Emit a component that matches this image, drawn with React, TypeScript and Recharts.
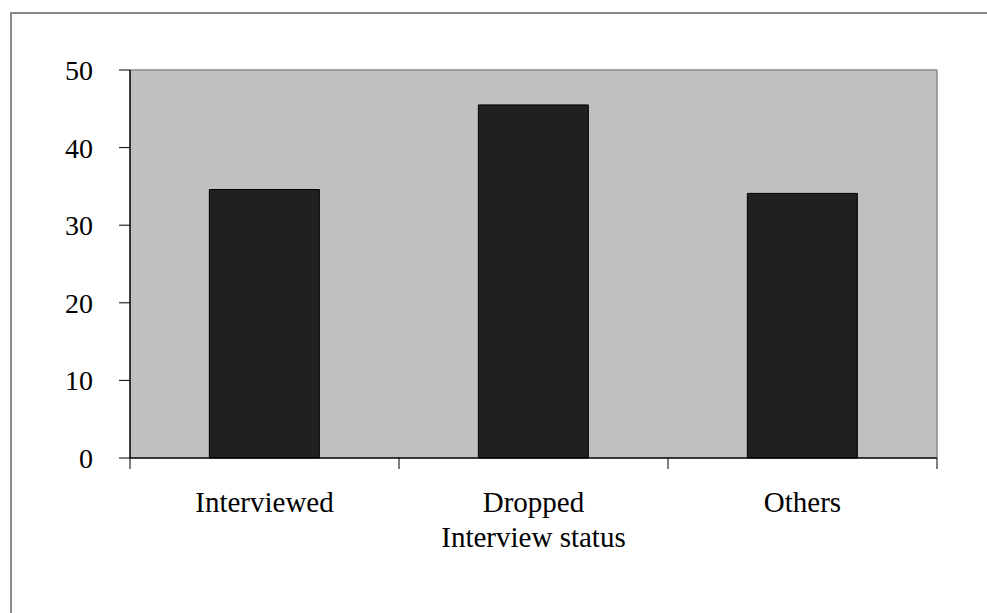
import { BarChart, Bar, XAxis, YAxis, CartesianGrid } from "recharts";

const categories = ["Interviewed", "Dropped", "Others"];
const values = [34.6, 45.5, 34.1];
const yTicks = [0, 10, 20, 30, 40, 50];

const data = categories.map((name, i) => ({ name, value: values[i] }));

const font = "'Liberation Serif', 'Times New Roman', serif";

// category label plus tick marks at the band edges
function CategoryTick(props: any) {
  const { x, y, payload, width, visibleTicksCount, index } = props;
  const half = width / visibleTicksCount / 2;
  return (
    <g>
      <line x1={x - half} x2={x - half} y1={y} y2={y + 11} stroke="#000" />
      {index === visibleTicksCount - 1 && (
        <line x1={x + half} x2={x + half} y1={y} y2={y + 11} stroke="#000" />
      )}
      <text x={x} y={y + 54} textAnchor="middle" fontSize={29} fill="#000" fontFamily={font}>
        {payload.value}
      </text>
    </g>
  );
}

export default function App() {
  return (
    <div style={{ position: "fixed", left: 0, top: 0, width: 987, height: 613, background: "#fff", overflow: "hidden" }}>
      <div
        style={{
          position: "absolute",
          left: 10,
          top: 12,
          width: 1000,
          height: 700,
          borderLeft: "2px solid #8a8a8a",
          borderTop: "2px solid #8a8a8a",
        }}
      />
      <div style={{ position: "absolute", left: 0, top: 0 }}>
        <BarChart
          width={987}
          height={613}
          data={data}
          margin={{ top: 70, right: 50, left: 0, bottom: 55 }}
          barCategoryGap="29.5%"
        >
          <CartesianGrid
            fill="#c0c0c0"
            stroke="#8a8a8a"
            strokeWidth={1.5}
            horizontalCoordinatesGenerator={({ offset }: any) => [offset.top]}
            verticalCoordinatesGenerator={({ offset }: any) => [offset.left + offset.width]}
          />
          <XAxis
            dataKey="name"
            height={100}
            tickLine={false}
            tickSize={0}
            tickMargin={0}
            interval={0}
            axisLine={{ stroke: "#000", strokeWidth: 1.5 }}
            tick={<CategoryTick />}
            label={{
              value: "Interview status",
              position: "insideTop",
              offset: 68,
              fontSize: 29,
              fill: "#000",
              fontFamily: font,
            }}
          />
          <YAxis
            domain={[0, 50]}
            ticks={yTicks}
            width={130}
            tickSize={11}
            tickMargin={26}
            interval={0}
            axisLine={{ stroke: "#000", strokeWidth: 1.5 }}
            tickLine={{ stroke: "#000" }}
            tick={{ fontSize: 28, fill: "#000", fontFamily: font }}
          />
          <Bar dataKey="value" fill="#202020" stroke="#000" strokeWidth={1} isAnimationActive={false} />
        </BarChart>
      </div>
    </div>
  );
}
